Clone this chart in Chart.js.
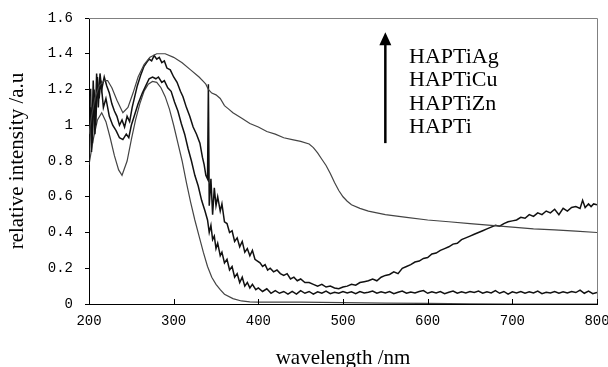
<!DOCTYPE html>
<html lang="en">
<head>
  <meta charset="UTF-8">
  <title>UV-Vis spectra</title>
  <script src="https://cdn.jsdelivr.net/npm/chart.js"></script>
  <style>
    html, body { margin: 0; padding: 0; background: #fff; }
    canvas { display: block; }
  </style>
</head>
<body>
  <canvas id="spectraChart" width="608" height="367"></canvas>

  <script>
    // axis ticks
    var xTicks = [200, 300, 400, 500, 600, 700, 800];
    var yTicks = [0, 0.2, 0.4, 0.6, 0.8, 1, 1.2, 1.4, 1.6];

    // legend text, top to bottom (arrow points up)
    var seriesNames = ['HAPTiAg', 'HAPTiCu', 'HAPTiZn', 'HAPTi'];

    // [wavelength nm, relative intensity]
    var hapTiAg = [[200,0.95],[203,1.05],[207,1.15],[212,1.22],[218,1.25],[222,1.25],[227,1.21],[233,1.14],[240,1.07],[246,1.10],[252,1.18],[258,1.27],[265,1.34],[272,1.38],[280,1.40],[290,1.40],[300,1.38],[310,1.35],[320,1.31],[330,1.27],[335,1.245],[338,1.23],[341,1.20],[345,1.18],[350,1.17],[355,1.15],[360,1.11],[365,1.09],[370,1.07],[380,1.04],[390,1.01],[400,0.99],[410,0.965],[420,0.95],[430,0.93],[440,0.92],[450,0.91],[460,0.895],[465,0.875],[470,0.845],[475,0.81],[480,0.775],[485,0.73],[490,0.68],[495,0.635],[500,0.6],[505,0.575],[510,0.555],[520,0.535],[530,0.52],[540,0.51],[550,0.5],[575,0.485],[600,0.47],[625,0.46],[650,0.45],[675,0.44],[700,0.43],[725,0.42],[750,0.415],[775,0.408],[800,0.40]];

    var hapTiCu = [[200,1.2],[202,1.2],[203,0.85],[205,1.25],[207,0.95],[209,1.29],[211,1.1],[213,1.29],[215,1.2],[218,1.27],[221,1.22],[224,1.18],[227,1.12],[230,1.08],[233,1.05],[236,1.0],[239,1.03],[242,0.99],[245,1.05],[248,1.02],[251,1.10],[254,1.16],[257,1.22],[261,1.28],[265,1.33],[268,1.35],[271,1.37],[274,1.36],[277,1.39],[280,1.37],[283,1.38],[286,1.35],[289,1.36],[292,1.32],[296,1.31],[300,1.27],[304,1.24],[308,1.19],[311,1.16],[315,1.10],[319,1.05],[323,0.99],[327,0.95],[331,0.90],[334,0.82],[336,0.78],[338,0.72],[340,0.7],[341,1.23],[342,0.55],[344,0.7],[346,0.5],[348,0.65],[350,0.55],[352,0.6],[355,0.52],[357,0.56],[360,0.46],[363,0.45],[366,0.40],[369,0.41],[372,0.35],[375,0.37],[378,0.32],[381,0.35],[384,0.29],[387,0.31],[390,0.27],[393,0.30],[396,0.25],[399,0.24],[402,0.23],[405,0.21],[408,0.22],[411,0.19],[414,0.20],[418,0.18],[422,0.19],[426,0.17],[430,0.16],[434,0.17],[438,0.14],[442,0.15],[446,0.13],[450,0.14],[455,0.12],[460,0.12],[465,0.11],[470,0.10],[475,0.11],[480,0.095],[485,0.10],[490,0.09],[495,0.085],[500,0.095],[505,0.10],[510,0.11],[515,0.105],[520,0.12],[525,0.125],[530,0.13],[535,0.14],[540,0.13],[545,0.15],[550,0.16],[555,0.165],[560,0.18],[565,0.17],[570,0.2],[575,0.21],[580,0.22],[585,0.235],[590,0.24],[595,0.255],[600,0.26],[605,0.28],[610,0.285],[615,0.30],[620,0.31],[625,0.32],[630,0.335],[635,0.34],[640,0.36],[645,0.37],[650,0.38],[655,0.39],[660,0.40],[665,0.41],[670,0.42],[675,0.43],[680,0.44],[685,0.435],[690,0.45],[695,0.46],[700,0.465],[705,0.47],[710,0.485],[715,0.48],[720,0.5],[725,0.49],[730,0.51],[735,0.5],[740,0.52],[745,0.51],[750,0.53],[755,0.50],[760,0.535],[765,0.52],[770,0.54],[775,0.545],[780,0.535],[783,0.58],[786,0.54],[790,0.56],[793,0.545],[796,0.56],[800,0.555]];

    var hapTiZn = [[200,0.78],[202,1.1],[204,0.9],[206,1.2],[208,1.0],[210,1.27],[212,1.15],[214,1.25],[217,1.1],[220,1.15],[224,1.05],[228,1.0],[232,0.97],[236,0.93],[240,0.92],[244,0.95],[247,0.93],[250,1.0],[254,1.06],[258,1.12],[263,1.18],[267,1.22],[271,1.26],[275,1.27],[279,1.26],[282,1.27],[286,1.24],[289,1.25],[293,1.21],[297,1.19],[301,1.13],[305,1.08],[309,1.01],[313,0.95],[317,0.87],[321,0.80],[325,0.72],[329,0.66],[333,0.58],[337,0.52],[340,0.47],[342,0.40],[344,0.44],[346,0.36],[348,0.38],[350,0.31],[352,0.34],[355,0.27],[357,0.29],[360,0.23],[363,0.25],[366,0.19],[369,0.21],[372,0.15],[375,0.17],[378,0.12],[381,0.15],[384,0.10],[387,0.12],[390,0.09],[393,0.11],[397,0.08],[400,0.09],[405,0.07],[410,0.085],[415,0.06],[420,0.075],[425,0.06],[430,0.07],[435,0.055],
      [440,0.07],[445,0.055],[450,0.075],[455,0.06],[460,0.07],[465,0.055],[470,0.068],[475,0.06],[480,0.072],[485,0.058],[490,0.066],[495,0.06],[500,0.07],[505,0.062],[510,0.068],[515,0.058],[520,0.07],[525,0.062],[530,0.066],[535,0.072],[540,0.06],[545,0.068],[550,0.062],[555,0.07],[560,0.058],[565,0.066],[570,0.072],[575,0.06],[580,0.067],[585,0.062],[590,0.07],[595,0.075],[600,0.06],[605,0.068],[610,0.062],[615,0.07],[620,0.058],[625,0.066],[630,0.072],[635,0.06],[640,0.068],[645,0.062],[650,0.07],[655,0.064],[660,0.072],[665,0.06],[670,0.068],[675,0.062],[680,0.075],[685,0.06],[690,0.07],[695,0.055],[700,0.068],[705,0.062],[710,0.07],[715,0.06],[720,0.068],[725,0.062],[730,0.072],[735,0.058],[740,0.066],[745,0.062],[750,0.07],[755,0.06],[760,0.068],[765,0.062],[770,0.07],[775,0.064],[780,0.078],[785,0.06],[790,0.072],[795,0.058],[800,0.065]];

    var hapTi = [[200,0.78],[205,0.92],[210,1.03],[215,1.07],[220,1.02],[225,0.93],[230,0.83],[235,0.75],[239,0.72],[245,0.80],[250,0.92],[255,1.03],[260,1.12],[265,1.19],[270,1.23],[275,1.245],[280,1.24],[285,1.21],[290,1.16],[295,1.09],[300,1.0],[305,0.90],[310,0.80],[315,0.68],[320,0.57],[325,0.47],[330,0.38],[335,0.29],[340,0.21],[345,0.15],[350,0.11],[355,0.08],[360,0.055],[370,0.03],[380,0.017],[390,0.012],[400,0.01],[450,0.01],[500,0.008],[550,0.005],[600,0.003],[650,0.001],[700,0],[800,0]];

    // legend arrow / text placement in data units
    var arrowX = 550, arrowFrom = 0.9, arrowTo = 1.52;
    var labelX = 578, labelY = [1.38, 1.25, 1.12, 0.99];

    function toPoints(arr) {
      return arr.map(function (p) { return { x: p[0], y: p[1] }; });
    }

    var monoFont = { family: "'Liberation Mono', monospace", size: 14 };
    var serifFont = { family: "'Liberation Serif', 'Times New Roman', serif", size: 21 };

    // box, inner x ticks, arrow + labels
    var extras = {
      id: 'extras',
      afterDraw: function (chart) {
        var ctx = chart.ctx, a = chart.chartArea;
        var x = chart.scales.x, y = chart.scales.y;
        ctx.save();
        ctx.strokeStyle = '#808080';
        ctx.lineWidth = 1;
        ctx.beginPath();
        ctx.moveTo(a.left, Math.round(a.top) + 0.5);
        ctx.lineTo(Math.round(a.right) + 0.5, Math.round(a.top) + 0.5);
        ctx.lineTo(Math.round(a.right) + 0.5, a.bottom);
        ctx.stroke();

        ctx.strokeStyle = '#000';
        ctx.beginPath();
        xTicks.forEach(function (v) {
          var px = Math.round(x.getPixelForValue(v)) + 0.5;
          ctx.moveTo(px, a.bottom);
          ctx.lineTo(px, a.bottom - 5);
        });
        ctx.stroke();

        var ax = x.getPixelForValue(arrowX);
        var y0 = y.getPixelForValue(arrowFrom), y1 = y.getPixelForValue(arrowTo);
        ctx.lineWidth = 2.5;
        ctx.beginPath();
        ctx.moveTo(ax, y0);
        ctx.lineTo(ax, y1 + 10);
        ctx.stroke();
        ctx.fillStyle = '#000';
        ctx.beginPath();
        ctx.moveTo(ax, y1);
        ctx.lineTo(ax - 6, y1 + 13);
        ctx.lineTo(ax + 6, y1 + 13);
        ctx.closePath();
        ctx.fill();

        ctx.font = '22px ' + serifFont.family;
        ctx.textAlign = 'left';
        ctx.textBaseline = 'middle';
        seriesNames.forEach(function (name, i) {
          ctx.fillText(name, x.getPixelForValue(labelX), y.getPixelForValue(labelY[i]));
        });
        ctx.restore();
      }
    };

    var ctx = document.getElementById('spectraChart').getContext('2d');
    var spectraChart = new Chart(ctx, {
      type: 'line',
      data: {
        datasets: [
          { label: seriesNames[0], data: toPoints(hapTiAg), borderColor: '#444', borderWidth: 1.2 },
          { label: seriesNames[1], data: toPoints(hapTiCu), borderColor: '#111', borderWidth: 1.5 },
          { label: seriesNames[2], data: toPoints(hapTiZn), borderColor: '#111', borderWidth: 1.5 },
          { label: seriesNames[3], data: toPoints(hapTi), borderColor: '#444', borderWidth: 1.2 }
        ]
      },
      options: {
        responsive: false,
        animation: false,
        devicePixelRatio: 1,
        layout: { padding: { top: 18, right: 11, left: 0, bottom: 0 } },
        elements: { point: { radius: 0 }, line: { tension: 0, fill: false } },
        plugins: { legend: { display: false }, tooltip: { enabled: false } },
        scales: {
          x: {
            type: 'linear',
            min: 200, max: 800,
            afterBuildTicks: function (s) { s.ticks = xTicks.map(function (v) { return { value: v }; }); },
            afterFit: function (s) { s.height = 63; s.paddingLeft = 0; s.paddingRight = 0; },
            ticks: { font: monoFont, color: '#000', padding: 9, maxRotation: 0 },
            grid: { drawOnChartArea: false, drawTicks: false },
            border: { color: '#000', width: 1 },
            title: { display: true, text: 'wavelength /nm', font: serifFont, color: '#000', padding: { top: 0, bottom: -4 } }
          },
          y: {
            min: 0, max: 1.6,
            afterBuildTicks: function (s) { s.ticks = yTicks.map(function (v) { return { value: v }; }); },
            afterFit: function (s) { s.width = 89; s.paddingTop = 0; s.paddingBottom = 0; },
            ticks: {
              font: monoFont, color: '#000', padding: 12,
              callback: function (v) { return String(+v.toFixed(1)); }
            },
            grid: { drawOnChartArea: false, tickLength: 4, color: '#000' },
            border: { color: '#000', width: 1 },
            title: { display: true, text: 'relative intensity /a.u', font: serifFont, color: '#000', padding: { top: 5, bottom: 0 } }
          }
        }
      },
      plugins: [extras]
    });
  </script>
</body>
</html>
